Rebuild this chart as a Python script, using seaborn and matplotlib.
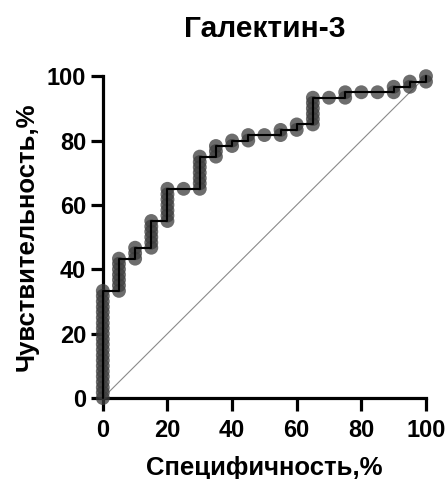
import pandas as pd
import matplotlib
matplotlib.use("Agg")
import matplotlib.pyplot as plt
import seaborn as sns

# ROC points (x = 100 - specificity shown as "Специфичность,%")
spec = [0, 0, 0, 0, 0, 0, 0, 0, 0, 0, 0, 0, 0, 0, 0, 0, 0, 0, 0, 0, 0,
        5, 5, 5, 5, 5, 5, 5,
        10, 10, 10,
        15, 15, 15, 15, 15, 15,
        20, 20, 20, 20, 20, 20, 20,
        25,
        30, 30, 30, 30, 30, 30, 30,
        35, 35, 35,
        40, 40,
        45, 45,
        50,
        55, 55,
        60, 60,
        65, 65, 65, 65, 65, 65,
        70,
        75, 75,
        80,
        85,
        90, 90,
        95, 95,
        100, 100]
sens = [0, 1.7, 3.3, 5.0, 6.7, 8.3, 10.0, 11.7, 13.3, 15.0, 16.7, 18.3, 20.0,
        21.7, 23.3, 25.0, 26.7, 28.3, 30.0, 31.7, 33.3,
        33.3, 35.0, 36.7, 38.3, 40.0, 41.7, 43.3,
        43.3, 45.0, 46.7,
        46.7, 48.3, 50.0, 51.7, 53.3, 55.0,
        55.0, 56.7, 58.3, 60.0, 61.7, 63.3, 65.0,
        65.0,
        65.0, 66.7, 68.3, 70.0, 71.7, 73.3, 75.0,
        75.0, 76.7, 78.3,
        78.3, 80.0,
        80.0, 81.7,
        81.7,
        81.7, 83.3,
        83.3, 85.0,
        85.0, 86.7, 88.3, 90.0, 91.7, 93.3,
        93.3,
        93.3, 95.0,
        95.0,
        95.0,
        95.0, 96.7,
        96.7, 98.3,
        98.3, 100.0]
ref_line = [0, 100]

df = pd.DataFrame({"spec": spec, "sens": sens})

sns.set_style("ticks")
plt.rcParams["font.family"] = ["Liberation Sans", "DejaVu Sans"]
plt.rcParams["font.weight"] = "bold"
for key in ("text.color", "axes.labelcolor", "xtick.color", "ytick.color", "axes.edgecolor"):
    plt.rcParams[key] = "black"

fig = plt.figure(figsize=(4.47, 4.79), dpi=100)
ax = fig.add_axes([0.230, 0.169, 0.723, 0.672])

sns.lineplot(x=ref_line, y=ref_line, ax=ax, color="#8a8a8a", linewidth=0.8)
sns.scatterplot(data=df, x="spec", y="sens", ax=ax, s=100, color="#3c3c3c",
                alpha=0.75, edgecolor="none", clip_on=False, zorder=3)
sns.lineplot(data=df, x="spec", y="sens", ax=ax, sort=False, estimator=None,
             color="black", linewidth=1.5, zorder=4, clip_on=False)

ax.set_xlim(0, 100)
ax.set_ylim(0, 100)
ax.set_xticks([0, 20, 40, 60, 80, 100])
ax.set_yticks([0, 20, 40, 60, 80, 100])
sns.despine(ax=ax)
for sp in ("left", "bottom"):
    ax.spines[sp].set_linewidth(2.3)
ax.tick_params(axis="both", width=2.3, length=9, labelsize=17)
ax.tick_params(axis="x", pad=6)
ax.tick_params(axis="y", pad=3)
for lab in ax.get_xticklabels() + ax.get_yticklabels():
    lab.set_fontweight("bold")

ax.set_xlabel("Специфичность,%", fontsize=18.5, fontweight="bold", labelpad=10)
ax.set_ylabel("Чувствительность,%", fontsize=18.5, fontweight="bold", labelpad=6)
ax.set_title("Галектин-3", fontsize=21.5, fontweight="bold", pad=28)

fig.savefig("out.png", dpi=100)
